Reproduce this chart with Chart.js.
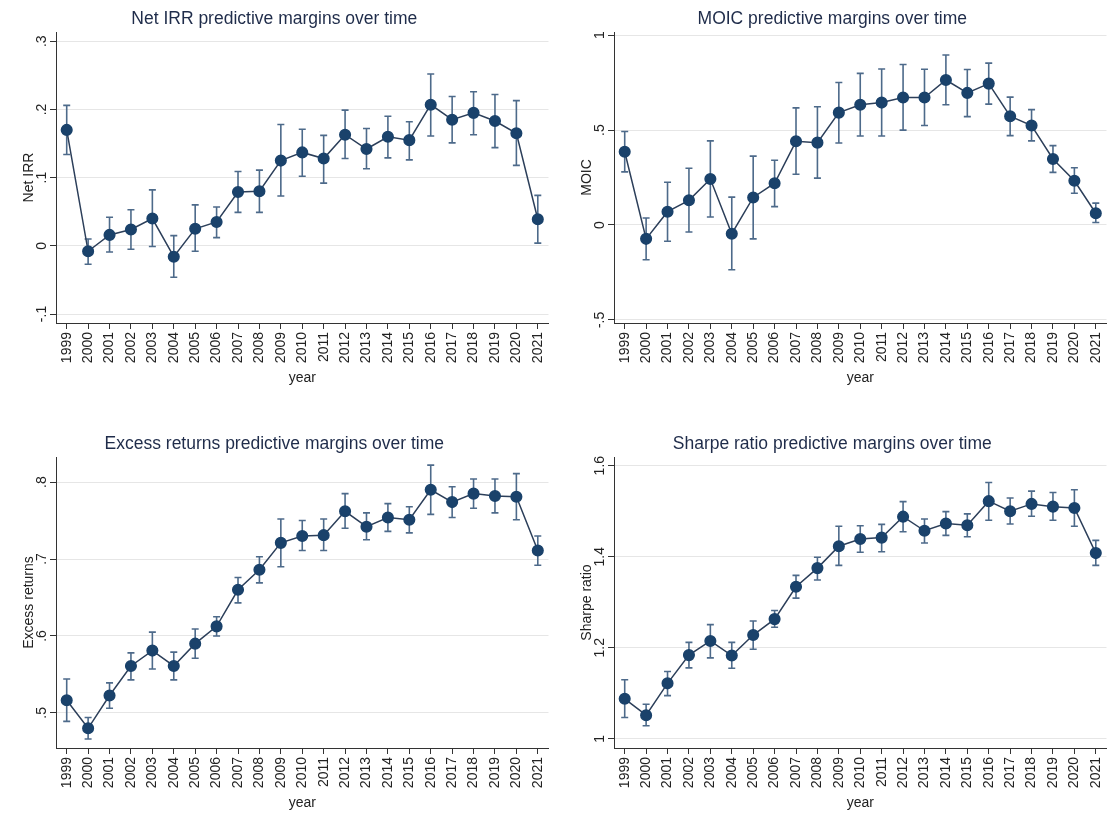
<!DOCTYPE html>
<html>
<head>
<meta charset="utf-8">
<script src="https://cdn.jsdelivr.net/npm/chart.js@4.4.0/dist/chart.umd.min.js"></script>
<style>
  html, body { margin: 0; padding: 0; background: #ffffff; }
  .panel { position: absolute; width: 558px; height: 400px; }
</style>
</head>
<body>
<div class="panel" style="left:0;top:0"><canvas id="irrChart"></canvas></div>
<div class="panel" style="left:558px;top:0"><canvas id="moicChart"></canvas></div>
<div class="panel" style="left:0;top:425px"><canvas id="excessChart"></canvas></div>
<div class="panel" style="left:558px;top:425px"><canvas id="sharpeChart"></canvas></div>
<script>
// years on the x axis
const years = ['1999', '2000', '2001', '2002', '2003', '2004', '2005', '2006', '2007', '2008', '2009', '2010',
  '2011', '2012', '2013', '2014', '2015', '2016', '2017', '2018', '2019', '2020', '2021'];

// Net IRR margins + 95% CI
const irrMargin = [.170, -.008, .016, .024, .040, -.016, .025, .035, .079, .080, .125, .137, .128, .163, .142, .160, .155, .207, .185, .195, .183, .165, .039];
const irrLower = [.134, -.027, -.009, -.005, -.001, -.046, -.008, .012, .049, .049, .073, .102, .092, .128, .113, .129, .126, .161, .151, .163, .144, .118, .004];
const irrUpper = [.206, .010, .042, .053, .082, .015, .060, .057, .109, .111, .178, .171, .162, .199, .172, .190, .182, .252, .219, .226, .222, .213, .074];
const irrTicks = [-.1, 0, .1, .2, .3];
const irrTickLabels = ['-.1', '0', '.1', '.2', '.3'];

// MOIC
const moicMargin = [.386, -.073, .070, .130, .242, -.046, .145, .220, .441, .434, .592, .634, .645, .672, .672, .764, .696, .745, .573, .524, .348, .233, .062];
const moicLower = [.280, -.183, -.086, -.037, .042, -.236, -.073, .097, .267, .247, .432, .469, .469, .500, .524, .634, .571, .637, .471, .443, .277, .167, .013];
const moicUpper = [.493, .037, .225, .299, .443, .147, .363, .341, .617, .623, .751, .799, .822, .846, .821, .896, .819, .853, .674, .608, .418, .302, .115];
const moicTicks = [-.5, 0, .5, 1];
const moicTickLabels = ['-.5', '0', '.5', '1'];

// Excess returns
const excessMargin = [.5165, .480, .5226, .561, .581, .561, .590, .6125, .660, .686, .721, .730, .731, .762, .742, .754, .751, .790, .774, .785, .782, .781, .711];
const excessLower = [.489, .466, .506, .543, .557, .543, .571, .600, .643, .669, .690, .711, .711, .740, .725, .736, .734, .758, .754, .766, .760, .751, .692];
const excessUpper = [.544, .494, .539, .578, .605, .579, .609, .625, .676, .703, .752, .750, .752, .785, .760, .772, .768, .822, .794, .804, .804, .811, .730];
const excessTicks = [.5, .6, .7, .8];
const excessTickLabels = ['.5', '.6', '.7', '.8'];

// Sharpe ratio
const sharpeMargin = [1.088, 1.052, 1.122, 1.184, 1.215, 1.183, 1.228, 1.263, 1.334, 1.375, 1.423, 1.439, 1.442, 1.488, 1.457, 1.473, 1.469, 1.522, 1.500, 1.516, 1.510, 1.507, 1.408];
const sharpeLower = [1.047, 1.029, 1.095, 1.156, 1.178, 1.155, 1.197, 1.245, 1.309, 1.349, 1.381, 1.410, 1.411, 1.455, 1.430, 1.447, 1.444, 1.480, 1.472, 1.489, 1.480, 1.467, 1.381];
const sharpeUpper = [1.130, 1.076, 1.148, 1.212, 1.251, 1.212, 1.259, 1.282, 1.359, 1.399, 1.467, 1.468, 1.471, 1.521, 1.483, 1.499, 1.494, 1.563, 1.529, 1.544, 1.541, 1.547, 1.436];
const sharpeTicks = [1, 1.2, 1.4, 1.6];
const sharpeTickLabels = ['1', '1.2', '1.4', '1.6'];

const FONT = '"Liberation Sans", Arial, Helvetica, sans-serif';
Chart.defaults.font.family = FONT;
Chart.defaults.color = '#222222';

const NAVY = '#1a426b';
const LINE = '#2c3f5a';
const CI = '#4d6a8a';
const AXIS = '#333333';

// capped spikes for the confidence intervals
const errorBars = {
    id: 'errorBars',
    beforeDatasetsDraw(chart, args, opts) {
        const { ctx, scales: { x, y } } = chart;
        ctx.save();
        ctx.strokeStyle = CI;
        ctx.lineWidth = 1.6;
        opts.lower.forEach((lo, i) => {
            const px = x.getPixelForValue(i);
            const yLo = y.getPixelForValue(lo);
            const yHi = y.getPixelForValue(opts.upper[i]);
            ctx.beginPath();
            ctx.moveTo(px, yLo); ctx.lineTo(px, yHi);
            ctx.moveTo(px - 3.5, yLo); ctx.lineTo(px + 3.5, yLo);
            ctx.moveTo(px - 3.5, yHi); ctx.lineTo(px + 3.5, yHi);
            ctx.stroke();
        });
        ctx.restore();
    }
};

// rotated y labels are shifted by half the widest label, so compensate to keep them at one spot
function yTickPadding(labels) {
    const c = document.createElement('canvas').getContext('2d');
    c.font = '14px ' + FONT;
    const widest = Math.max(...labels.map(l => c.measureText(l).width));
    return 8 - widest / 2;
}

function makePanel(id, title, yTitle, values, lower, upper, ticks, tickLabels, yMin, yMax) {
    const ctx = document.getElementById(id);
    return new Chart(ctx, {
        type: 'line',
        data: {
            labels: years,
            datasets: [{
                label: yTitle,
                data: values,
                borderColor: LINE,
                borderWidth: 1.5,
                backgroundColor: NAVY,
                pointBackgroundColor: NAVY,
                pointBorderColor: NAVY,
                pointRadius: 5.3,
                tension: 0,
            }],
        },
        options: {
            responsive: true,
            maintainAspectRatio: false,
            animation: false,
            layout: { padding: { left: 0, right: 9.5, top: 0, bottom: 9 } },
            scales: {
                x: {
                    offset: true,
                    grid: { drawOnChartArea: false, drawTicks: true, tickLength: 6, tickColor: AXIS },
                    border: { color: AXIS, width: 1 },
                    ticks: { minRotation: 90, maxRotation: 90, autoSkip: false, font: { size: 14 }, color: '#222', padding: 3 },
                    title: { display: true, text: 'year', font: { size: 14 }, color: '#222', padding: { top: 2 } },
                    afterFit: (s) => { s.height = 68; },
                },
                y: {
                    min: yMin,
                    max: yMax,
                    afterBuildTicks: (s) => { s.ticks = ticks.map(v => ({ value: v })); },
                    grid: { color: '#e6e6e6', tickColor: AXIS, tickLength: 6, drawTicks: true },
                    border: { color: AXIS, width: 1 },
                    ticks: {
                        minRotation: 90, maxRotation: 90, crossAlign: 'center', padding: yTickPadding(tickLabels),
                        font: { size: 14 }, color: '#222',
                        callback: (v) => tickLabels[ticks.findIndex(t => Math.abs(t - v) < 1e-9)],
                    },
                    title: { display: true, text: yTitle, font: { size: 14 }, color: '#222', padding: { top: 20.5, bottom: 0 } },
                    afterFit: (s) => { s.width = 56; },
                },
            },
            plugins: {
                legend: { display: false },
                tooltip: { enabled: false },
                title: {
                    display: true,
                    text: title,
                    color: '#1f2c4a',
                    font: { size: 17.5, weight: 'normal' },
                    padding: { top: 9, bottom: 2 },
                },
                errorBars: { lower: lower, upper: upper },
            },
        },
        plugins: [errorBars],
    });
}

makePanel('irrChart', 'Net IRR predictive margins over time', 'Net IRR', irrMargin, irrLower, irrUpper, irrTicks, irrTickLabels, -.1132, .3136);
makePanel('moicChart', 'MOIC predictive margins over time', 'MOIC', moicMargin, moicLower, moicUpper, moicTicks, moicTickLabels, -.5165, 1.017);
makePanel('excessChart', 'Excess returns predictive margins over time', 'Excess returns', excessMargin, excessLower, excessUpper, excessTicks, excessTickLabels, .4544, .8326);
makePanel('sharpeChart', 'Sharpe ratio predictive margins over time', 'Sharpe ratio', sharpeMargin, sharpeLower, sharpeUpper, sharpeTicks, sharpeTickLabels, .980, 1.619);
</script>
</body>
</html>
